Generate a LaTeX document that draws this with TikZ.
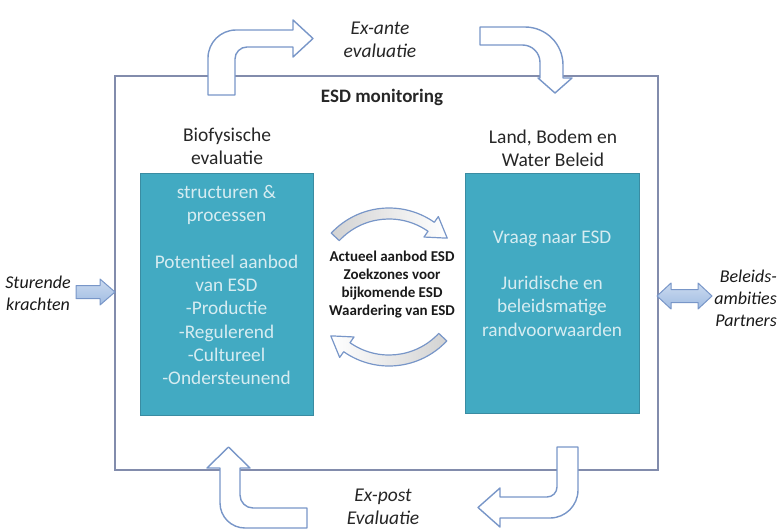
\documentclass[tikz,border=0pt]{standalone}
\usepackage{fontspec}
\setmainfont{Carlito}
\definecolor{teal1}{RGB}{66,170,194}
\definecolor{tealedge}{RGB}{58,140,162}
\definecolor{boxtext}{RGB}{214,236,241}
\definecolor{framecol}{RGB}{130,140,172}
\definecolor{arrowedge}{RGB}{120,150,200}
\definecolor{arrowfill}{RGB}{160,188,226}
\begin{document}
\begin{tikzpicture}[x=1pt,y=-1pt,
  panel/.style={draw=tealedge, line width=1pt, fill=teal1, inner sep=0pt},
  paneltext/.style={text=boxtext, align=center, inner sep=0pt, font=\fontsize{19.3}{23.25}\selectfont},
  title/.style={align=center, inner sep=0pt, text=black!85, font=\fontsize{19.5}{23}\selectfont},
  sidelabel/.style={align=center, inner sep=0pt, text=black!85, font=\itshape\fontsize{19.5}{23.5}\selectfont},
  outerlabel/.style={inner sep=0pt, text=black!90, font=\itshape\fontsize{18}{22}\selectfont},
  bentarrow/.style={draw=arrowedge, line width=1.4pt, fill=white, line join=round},
  sidearrow/.style={draw=arrowedge, line width=1pt, top color=arrowfill!55, bottom color=arrowfill, line join=round},
  cyclearrow/.style={draw=arrowedge, line width=1.2pt, line join=round},
]
\useasboundingbox (0,0) rectangle (778,530);

% monitoring frame
\node[draw=framecol, line width=1.8pt, minimum width=543pt, minimum height=394pt, inner sep=0pt] (monitor) at (386.5,273) {};

% the two panels
\node[panel, minimum width=173pt, minimum height=242pt] (bio) at (226.5,294) {};
\node[panel, minimum width=174pt, minimum height=240pt] (policy) at (552,293) {};

\node[paneltext] (biotext) at (226.5,285) {structuren \&\\processen\\[23.25pt]Potentieel aanbod\\van ESD\\-Productie\\-Regulerend\\-Cultureel\\-Ondersteunend};
\node[paneltext] (policytext) at (552,283.5) {Vraag naar ESD\\[23.25pt]Juridische en\\beleidsmatige\\randvoorwaarden};

% titles
\node[title] (biotitle) at (227,146.5) {Biofysische\\evaluatie};
\node[title] (policytitle) at (553,148.5) {Land, Bodem en\\Water Beleid};
\node[inner sep=0pt, text=black!85, font=\bfseries\fontsize{19}{23}\selectfont] (monlabel) at (382,97) {ESD monitoring};

% labels above and below the frame
\node[sidelabel] (exante) at (380,40) {Ex-ante\\evaluatie};
\node[sidelabel] (expost) at (383,507) {Ex-post\\Evaluatie};

% labels left and right of the frame
\node[outerlabel, align=center] (drivers) at (38,293) {Sturende\\krachten};
\node[outerlabel, align=right, anchor=east] (ambitions) at (777,298) {Beleids-\\ambities\\Partners};

% bent arrows around the frame
\draw[bentarrow] (208,95) -- (208,58) arc[start angle=180, end angle=270, radius=28]
  -- (293,30) -- (293,20) -- (313,38.5) -- (293,57) -- (293,47) -- (247,47)
  arc[start angle=270, end angle=180, radius=12] -- (235,95) -- cycle;
\draw[bentarrow] (480,27) -- (525,27) arc[start angle=270, end angle=360, radius=38]
  -- (563,78) -- (572,78) -- (555,93) -- (538,78) -- (540,78) -- (540,62.5)
  arc[start angle=0, end angle=-90, radius=17.5] -- (480,45) -- cycle;
\draw[bentarrow] (557,447) -- (578,447) -- (578,490) arc[start angle=0, end angle=90, radius=28]
  -- (500,518) -- (500,527) -- (478,507.5) -- (500,488) -- (500,497) -- (547,497)
  arc[start angle=90, end angle=0, radius=10] -- cycle;
\draw[bentarrow] (307,508) -- (307,528) -- (245,528) arc[start angle=90, end angle=180, radius=25]
  -- (220,468) -- (207,468) -- (228.5,447) -- (250,468) -- (240,468) -- (240,495)
  arc[start angle=180, end angle=90, radius=13] -- cycle;

% side arrows
\draw[sidearrow] (76,285.5) -- (100,285.5) -- (100,279) -- (115,292) -- (100,305) -- (100,298.5) -- (76,298.5) -- cycle;
\draw[sidearrow] (657,296) -- (671,283) -- (671,289.5) -- (698,289.5) -- (698,283) -- (712,296)
  -- (698,309) -- (698,302.5) -- (671,302.5) -- (671,309) -- cycle;

% cycle arrows
\begin{scope}[shift={(389,287)}]
  \draw[cyclearrow, left color=gray!35, right color=white]
    (-137:79) arc[start angle=-137, end angle=-55, radius=79] -- (-55:86) -- (-40:76) -- (-55:61) -- (-55:68)
    arc[start angle=-55, end angle=-137, radius=68] -- cycle;
  \draw[cyclearrow, left color=white, right color=gray!35]
    (43:79) arc[start angle=43, end angle=125, radius=79] -- (125:86) -- (140:76) -- (125:61) -- (125:68)
    arc[start angle=125, end angle=43, radius=68] -- cycle;
\end{scope}
\node[align=center, inner sep=0pt, text=black!90, font=\bfseries\fontsize{15}{18}\selectfont] (cycletext) at (392,285)
  {Actueel aanbod ESD\\Zoekzones voor\\bijkomende ESD\\Waardering van ESD};
\end{tikzpicture}
\end{document}
